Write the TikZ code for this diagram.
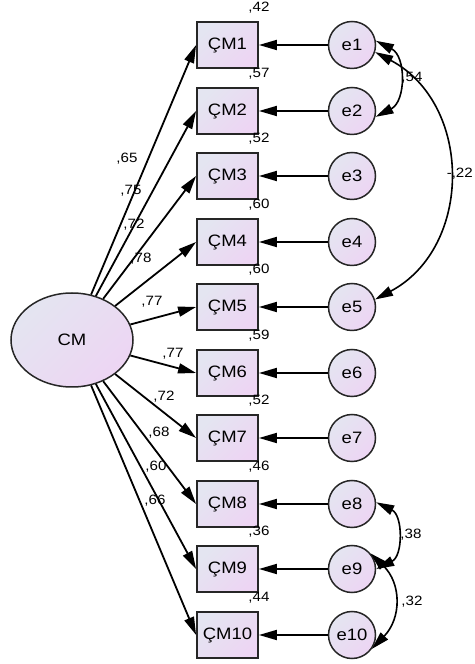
\documentclass[tikz,border=0pt]{standalone}
\usepackage{fontspec}
\setmainfont{Liberation Sans}
\newfontfamily\lblfont[FakeStretch=1.12]{Liberation Sans}
\usetikzlibrary{arrows.meta,shapes.geometric}
\definecolor{shA}{RGB}{228,229,241}
\definecolor{shB}{RGB}{237,213,243}
\begin{document}
\begin{tikzpicture}[x=1pt,y=1pt,
  fillgrad/.style={top color=shA, bottom color=shB, shading angle=45},
  obs/.style={rectangle, draw=black!85, line width=1.8pt, fillgrad, minimum width=61pt, minimum height=46pt, inner sep=0pt, font=\lblfont\fontsize{16.5}{16.5}\selectfont},
  err/.style={circle, draw=black!85, line width=1.5pt, fillgrad, minimum size=47pt, inner sep=0pt, font=\lblfont\fontsize{16.5}{16.5}\selectfont},
  lat/.style={ellipse, draw=black!85, line width=1.5pt, fillgrad, minimum width=122pt, minimum height=94pt, inner sep=0pt, font=\lblfont\fontsize{16.5}{16.5}\selectfont},
  tip/.tip={Triangle[length=18pt,width=10pt]},
  arr/.style={line width=1.8pt, -tip},
  cov/.style={line width=1.6pt, tip-tip, looseness=1.15},
  num/.style={font=\lblfont\fontsize{13.5}{13.5}\selectfont, inner sep=0pt}
]
\useasboundingbox (0,0) rectangle (474,664);
\node[lat] (CM) at (72,324) {CM};
\foreach \i/\v/\yy in {1/42/619,2/57/553,3/52/488,4/60/422,5/60/357,6/59/291,7/52/226,8/46/160,9/36/95,10/44/29} {
  \node[obs] (b\i) at (227.5,\yy) {\char"00C7 M\i};
  \node[err] (e\i) at (352,\yy) {e\i};
  \node[num] (v\i) at ([yshift=13pt]b\i.north east) {,\v};
  \draw[arr] (e\i) -- (b\i);
  \draw[arr] (CM) -- (b\i.west);
}
% loadings
\node[num] (l1) at (127,505) {,65};
\node[num] (l2) at (131,473) {,75};
\node[num] (l3) at (134,439) {,72};
\node[num] (l4) at (141,405) {,78};
\node[num] (l5) at (152,362) {,77};
\node[num] (l6) at (173,310) {,77};
\node[num] (l7) at (164,267) {,72};
\node[num] (l8) at (159,231) {,68};
\node[num] (l9) at (156,197) {,60};
\node[num] (l10) at (155,163) {,66};
% covariances
\draw[cov] (e1.10) to[out=-27,in=27] (e2.-14);
\draw[cov] (e1.-17) to[out=-28,in=28] (e5.18);
\draw[cov] (e8.4) to[out=-26,in=26] (e9.0);
\draw[cov] (e9.40) to[out=-44,in=46] (e10.-35);
\node[num] (c12) at (412,586) {,54};
\node[num, anchor=east] (c15) at (473,490) {-,22};
\node[num] (c89) at (411,129) {,38};
\node[num] (c910) at (412,62) {,32};
\end{tikzpicture}
\end{document}
